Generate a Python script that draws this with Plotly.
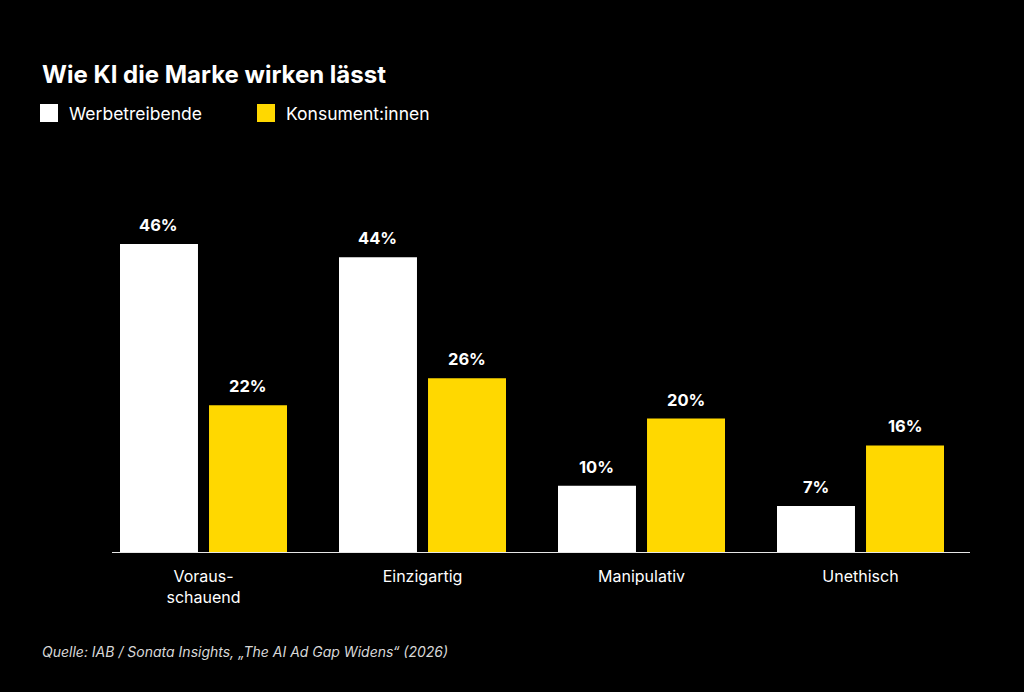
import plotly.graph_objects as go

categories = ["Voraus-<br>schauend", "Einzigartig", "Manipulativ", "Unethisch"]
werbetreibende = [46, 44, 10, 7]
konsumenten = [22, 26, 20, 16]
series_names = ["Werbetreibende", "Konsument:innen"]
title_text = "Wie KI die Marke wirken lässt"
source_text = "Quelle: IAB / Sonata Insights, „The AI Ad Gap Widens“ (2026)"

WHITE = "#FFFFFF"
YELLOW = "#FFD800"
FONT = "Inter"

W, H = 1024, 692
L, R, T, B = 94, 54, 217, 139
PW, PH = W - L - R, H - T - B


def px(x):
    return (x - L) / PW


def py(y):
    return (H - B - y) / PH


BARGAP = 0.187
BARGROUPGAP = 0.124
slot = (1 - BARGAP) / 2

fig = go.Figure()
xs = list(range(len(categories)))
for vals, name, col in [(werbetreibende, series_names[0], WHITE), (konsumenten, series_names[1], YELLOW)]:
    fig.add_trace(go.Bar(x=xs, y=vals, name=name, marker=dict(color=col, line=dict(width=0)),
                         showlegend=False, hoverinfo="skip"))

annotations = []
for k, vals in enumerate([werbetreibende, konsumenten]):
    off = (-0.5 + k) * slot
    for i, v in enumerate(vals):
        annotations.append(dict(x=i + off, y=v, xref="x", yref="y", text=f"<b>{v}%</b>",
                                showarrow=False, yanchor="bottom", yshift=7,
                                font=dict(family=FONT, size=16.5, color=WHITE)))

# title
annotations.append(dict(x=px(40), y=py(74), xref="paper", yref="paper", text="<b>" + title_text + "</b>",
                        showarrow=False, xanchor="left", yanchor="middle",
                        font=dict(family=FONT, size=24, color=WHITE)))
# legend
shapes = []
for (x0, name, col) in [(40, series_names[0], WHITE), (257, series_names[1], YELLOW)]:
    shapes.append(dict(type="rect", xref="paper", yref="paper", x0=px(x0), x1=px(x0 + 18),
                       y0=py(122), y1=py(104), fillcolor=col, line=dict(width=0)))
    annotations.append(dict(x=px(x0 + 27), y=py(113), xref="paper", yref="paper", text=name,
                            showarrow=False, xanchor="left", yanchor="middle",
                            font=dict(family=FONT, size=17.5, color=WHITE)))
# source
annotations.append(dict(x=px(40), y=py(651), xref="paper", yref="paper", text="<i>" + source_text + "</i>",
                        showarrow=False, xanchor="left", yanchor="middle",
                        font=dict(family=FONT, size=14, color="#D8D8D8")))
# baseline
shapes.append(dict(type="line", xref="paper", yref="y", x0=px(112), x1=px(970), y0=0, y1=0,
                   line=dict(color="#E6E6E6", width=2)))

fig.update_layout(
    width=W, height=H,
    margin=dict(l=L, r=R, t=T, b=B, pad=0),
    paper_bgcolor="#000000", plot_bgcolor="#000000",
    barmode="group", bargap=BARGAP, bargroupgap=BARGROUPGAP,
    showlegend=False,
    annotations=annotations, shapes=shapes,
    xaxis=dict(tickmode="array", tickvals=xs, ticktext=categories, range=[-0.5, 3.5],
               showgrid=False, zeroline=False, showline=False,
               ticks="outside", ticklen=9, tickcolor="rgba(0,0,0,0)",
               tickfont=dict(family=FONT, size=16, color=WHITE), fixedrange=True),
    yaxis=dict(range=[0, 50], visible=False, fixedrange=True),
)

fig.write_html("out.html", config={"displayModeBar": False})
